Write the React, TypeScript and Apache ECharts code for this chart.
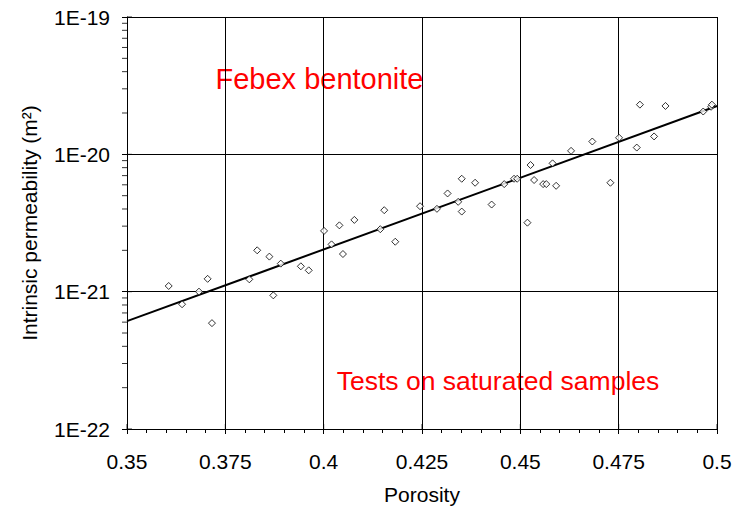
import React, { useEffect, useRef } from "react";
import * as echarts from "echarts";

const porosity = [
  0.3606, 0.364, 0.3683, 0.3705, 0.3716, 0.3811, 0.3831, 0.3862, 0.3872, 0.3891,
  0.3942, 0.3962, 0.4001, 0.402, 0.404, 0.4049, 0.4078, 0.4144, 0.4154, 0.4182,
  0.4245, 0.4288, 0.4315, 0.4342, 0.4351, 0.4351, 0.4385, 0.4427, 0.4459, 0.4484,
  0.4492, 0.4518, 0.4526, 0.4535, 0.4558, 0.4566, 0.4582, 0.4591, 0.4629, 0.4683,
  0.4729, 0.4751, 0.4796, 0.4804, 0.484, 0.4869, 0.4965, 0.4985, 0.4987,
];
const permeability = [
  1.1e-21, 8.1e-22, 1.0e-21, 1.24e-21, 5.9e-22, 1.23e-21, 2.0e-21, 1.8e-21, 9.4e-22, 1.6e-21,
  1.53e-21, 1.43e-21, 2.77e-21, 2.21e-21, 3.04e-21, 1.88e-21, 3.33e-21, 2.85e-21, 3.92e-21, 2.31e-21,
  4.19e-21, 4.01e-21, 5.19e-21, 4.51e-21, 6.64e-21, 3.83e-21, 6.21e-21, 4.31e-21, 6.07e-21, 6.64e-21,
  6.64e-21, 3.18e-21, 8.36e-21, 6.5e-21, 6.07e-21, 6.07e-21, 8.6e-21, 5.9e-21, 1.06e-20, 1.24e-20,
  6.21e-21, 1.32e-20, 1.12e-20, 2.3e-20, 1.35e-20, 2.25e-20, 2.05e-20, 2.22e-20, 2.3e-20,
];
// Fitted trend line end points
const trendX = [0.35, 0.5];
const trendY = [6.1e-22, 2.25e-20];

// Axes
const xMin = 0.35;
const xMax = 0.5;
const xStep = 0.025;
const xMajorTicks = [0.35, 0.375, 0.4, 0.425, 0.45, 0.475, 0.5];
const yMinExp = -22;
const yMaxExp = -19;
const yMajorExps = [-22, -21, -20, -19];
const logDecades = [-22, -21, -20];
const logMinorMultipliers = [2, 3, 4, 5, 6, 7, 8, 9];

const title1 = "Febex bentonite";
const title2 = "Tests on saturated samples";

const FONT = '"Liberation Sans", Arial, sans-serif';

// values are handed to the log axis in units of 1E-22 m² (avoids tiny-number precision issues)
const UNIT_EXP = -22;
const toAxis = (v: number) => v / Math.pow(10, UNIT_EXP);

export default function App() {
  const ref = useRef<HTMLDivElement>(null);

  useEffect(() => {
    if (!ref.current) return;
    const chart = echarts.init(ref.current, undefined, { renderer: "svg" });

    const points = porosity.map((p, i) => [p, toAxis(permeability[i])]);
    const trend = trendX.map((x, i) => [x, toAxis(trendY[i])]);
    const yMinorTicks: number[][] = [];
    logDecades.forEach((d) =>
      logMinorMultipliers.forEach((m) => yMinorTicks.push([xMin, m * Math.pow(10, d - UNIT_EXP)]))
    );
    const yInnerTicks = yMajorExps.map((e) => [xMin, Math.pow(10, e - UNIT_EXP)]);
    const xInnerTicks = xMajorTicks.map((x) => [x, Math.pow(10, yMinExp - UNIT_EXP)]);

    const black = "#000";
    const tickSeries = (data: number[][], size: number[], offset: number[]) => ({
      type: "scatter",
      data,
      symbol: "rect",
      symbolSize: size,
      symbolOffset: offset,
      itemStyle: { color: black },
      clip: false,
      silent: true,
      z: 5,
    });

    chart.setOption({
      animation: false,
      backgroundColor: "#fff",
      textStyle: { fontFamily: FONT },
      grid: { left: 127, right: 19, top: 17, bottom: 82 },
      xAxis: {
        type: "value",
        min: xMin,
        max: xMax,
        interval: xStep,
        name: "Porosity",
        nameLocation: "middle",
        nameGap: 55,
        nameTextStyle: { fontSize: 21, color: black, fontFamily: FONT },
        axisLine: { show: true, onZero: false, lineStyle: { color: black, width: 1 } },
        axisTick: { show: true, length: 5, lineStyle: { color: black } },
        minorTick: { show: true, splitNumber: 5, length: 4, lineStyle: { color: black } },
        axisLabel: {
          fontSize: 21,
          color: black,
          margin: 22,
          fontFamily: FONT,
          formatter: (v: number) => String(+v.toFixed(3)),
        },
        splitLine: { show: true, lineStyle: { color: black, width: 1 } },
      },
      yAxis: {
        type: "log",
        logBase: 10,
        min: Math.pow(10, yMinExp - UNIT_EXP),
        max: Math.pow(10, yMaxExp - UNIT_EXP),
        name: "Intrinsic permeability (m²)",
        nameLocation: "middle",
        nameGap: 87,
        nameTextStyle: { fontSize: 21, color: black, fontFamily: FONT },
        axisLine: { show: true, onZero: false, lineStyle: { color: black, width: 1 } },
        axisTick: { show: true, length: 5, lineStyle: { color: black } },
        axisLabel: {
          fontSize: 21,
          color: black,
          margin: 17,
          fontFamily: FONT,
          formatter: (v: number) => "1E" + (Math.round(Math.log10(v)) + UNIT_EXP),
        },
        splitLine: { show: true, lineStyle: { color: black, width: 1 } },
      },
      series: [
        {
          type: "line",
          data: trend,
          showSymbol: false,
          symbol: "none",
          lineStyle: { color: black, width: 2 },
          silent: true,
          z: 3,
        },
        {
          type: "scatter",
          data: points,
          symbol: "diamond",
          symbolSize: 7,
          itemStyle: { color: "#fff", borderColor: black, borderWidth: 1 },
          z: 4,
        },
        tickSeries(yMinorTicks, [5, 1], [-2.5, 0]),
        tickSeries(yInnerTicks, [5, 1], [2.5, 0]),
        tickSeries(xInnerTicks, [1, 5], [0, -2.5]),
      ],
      graphic: [
        {
          type: "text",
          x: 319.5,
          y: 79,
          style: {
            text: title1,
            fill: "#ff0000",
            fontSize: 29,
            fontFamily: FONT,
            align: "center",
            verticalAlign: "middle",
          },
        },
        {
          type: "text",
          x: 498,
          y: 381,
          style: {
            text: title2,
            fill: "#ff0000",
            fontSize: 26.5,
            fontFamily: FONT,
            align: "center",
            verticalAlign: "middle",
          },
        },
      ],
    });

    return () => chart.dispose();
  }, []);

  return (
    <div
      ref={ref}
      style={{ position: "fixed", left: 0, top: 0, width: 736, height: 511, background: "#fff" }}
    />
  );
}
